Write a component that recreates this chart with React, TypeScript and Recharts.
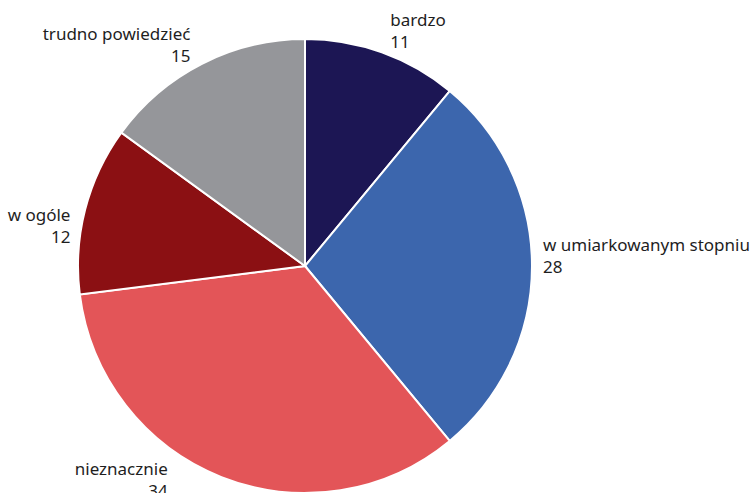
import { PieChart, Pie, Cell } from 'recharts';

const categories = ['bardzo', 'w umiarkowanym stopniu', 'nieznacznie', 'w ogóle', 'trudno powiedzieć'];
const values = [11, 28, 34, 12, 15];
const colors = ['#1c1654', '#3c66ad', '#e35558', '#8b1013', '#95969a'];

// label nudges relative to the point just outside each slice (dx, dy, anchor)
const labelNudge: [number, number, 'start' | 'end'][] = [
  [5, 5, 'start'],
  [1, 7, 'start'],
  [-50, 11, 'end'],
  [-5, 36, 'end'],
  [-7, 7, 'end'],
];

const data = categories.map((name, i) => ({ name, value: values[i] }));

const RADIAN = Math.PI / 180;

function renderLabel(props: any) {
  const { cx, cy, midAngle, outerRadius, index, name, value } = props;
  const r = outerRadius + 10;
  const [dx, dy, anchor] = labelNudge[index];
  const x = cx + r * Math.cos(-midAngle * RADIAN) + dx;
  const y = cy + r * Math.sin(-midAngle * RADIAN) + dy;
  return (
    <text
      x={x}
      y={y - 22}
      textAnchor={anchor}
      fill="#1e1e1e"
      fontSize={17}
      fontFamily="'Noto Sans', sans-serif"
    >
      <tspan x={x} y={y - 22}>{name}</tspan>
      <tspan x={x} y={y}>{value}</tspan>
    </text>
  );
}

export default function App() {
  return (
    <div style={{ position: 'absolute', left: 0, top: 0, background: '#fff' }}>
      <PieChart width={750} height={493} margin={{ top: 0, right: 0, bottom: 0, left: 0 }}>
        <Pie
          data={data}
          dataKey="value"
          nameKey="name"
          cx={305}
          cy={266}
          outerRadius={227}
          startAngle={90}
          endAngle={-270}
          stroke="#ffffff"
          strokeWidth={2}
          label={renderLabel}
          labelLine={false}
          isAnimationActive={false}
        >
          {data.map((d, i) => (
            <Cell key={d.name} fill={colors[i]} />
          ))}
        </Pie>
      </PieChart>
    </div>
  );
}
